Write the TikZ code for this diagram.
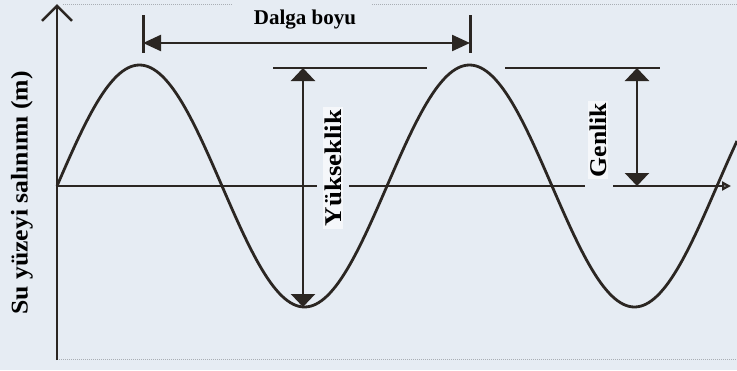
\documentclass[tikz,border=0pt]{standalone}
\usepackage{fontspec}
\setmainfont{Liberation Serif}
\usetikzlibrary{arrows.meta}
\definecolor{Paper}{HTML}{E6ECF3}
\definecolor{Ink}{HTML}{2B2622}
\definecolor{Frame}{HTML}{A9AEB4}

\begin{document}
\begin{tikzpicture}[x=1pt,y=-1pt,
    wave/.style={Ink,line width=2.8pt,line join=round},
    axis/.style={Ink,line width=2.5pt},
    guide/.style={Ink,line width=2.2pt},
    bar/.style={Ink,line width=3pt},
    dim/.style={Ink,line width=2.3pt,{Triangle[length=13pt,width=24pt]}-{Triangle[length=13pt,width=24pt]}},
    span/.style={Ink,line width=2.3pt,{Triangle[length=18pt,width=16pt]}-{Triangle[length=18pt,width=16pt]}},
    lbl/.style={font=\bfseries\fontsize{21}{23}\selectfont,inner sep=1pt},
    vlbl/.style={font=\bfseries\fontsize{24}{26}\selectfont,inner sep=2pt,rotate=90,fill=Paper!40!white}]
    \fill[Paper] (0,0) rectangle (737,370);
    \useasboundingbox (0,0) rectangle (737,370);
    % frame
    \draw[Frame,line width=1pt,densely dotted] (63,4) -- (233,4) (372,4) -- (737,4);
    \draw[Frame,line width=1pt,densely dotted] (57,359) -- (737,359);
    % axes
    \coordinate (origin) at (57,186);
    \coordinate (ytop) at (57,4);
    \coordinate (ybot) at (57,360);
    \draw[axis,-{Straight Barb[length=15pt,width=30pt]}] (ybot) -- (ytop);
    \coordinate (gapAl) at (317,186);
    \coordinate (gapAr) at (349,186);
    \coordinate (gapBl) at (585,186);
    \coordinate (gapBr) at (613,186);
    \coordinate (xend) at (731,186);
    \draw[axis] (origin) -- (gapAl);
    \draw[axis] (gapAr) -- (gapBl);
    \draw[axis,-{Triangle[open,length=9pt,width=9pt]}] (gapBr) -- (xend);
    % wave
    \draw[wave] plot[domain=57:737,samples=240] (\x,{186-121*sin((\x-57)*1.090909)});
    % wavelength
    \coordinate (crestA) at (143,43);
    \coordinate (crestB) at (470,43);
    \draw[bar] (143,15) -- (143,53);
    \draw[bar] (470,15) -- (470,53);
    \draw[span] (crestA) -- (crestB);
    \node[lbl] (dalga) at (305,20) {Dalga boyu};
    % height
    \coordinate (hTop) at (303,68);
    \coordinate (hBot) at (303,307);
    \draw[guide] (273,68) -- (427,68);
    \draw[dim] (hTop) -- (hBot);
    \node[vlbl,xscale=1.12] (yuk) at (333,168) {Yükseklik};
    % amplitude
    \coordinate (aTop) at (637,68);
    \coordinate (aBot) at (637,186);
    \draw[guide] (505,68) -- (660,68);
    \draw[dim] (aTop) -- (aBot);
    \node[vlbl,xscale=1.07] (gen) at (598,140) {Genlik};
    % y label
    \node[vlbl,fill=none,xscale=1.07] (ylab) at (22,193) {Su yüzeyi salınımı (m)};
  \end{tikzpicture}
\end{document}
